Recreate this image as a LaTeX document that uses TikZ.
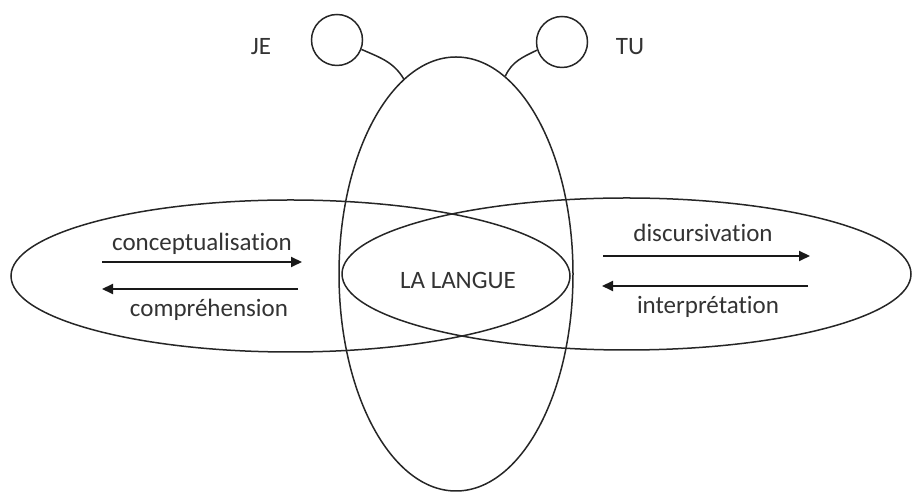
\documentclass[tikz,border=0pt]{standalone}
\usepackage{fontspec}
\setmainfont[Ligatures={NoCommon}]{Carlito}
\usetikzlibrary{shapes.geometric,arrows.meta}
\begin{document}
\begin{tikzpicture}[x=1pt,y=1pt,
  outline/.style={draw=black!85,line width=1.5pt,inner sep=0pt},
  oval/.style={outline,ellipse},
  head/.style={outline,circle,minimum size=51pt},
  lbl/.style={anchor=base,inner sep=0pt,text=black!80,font=\fontsize{25}{30}\selectfont},
  flow/.style={draw=black!90,line width=2pt,-{Triangle[length=11pt,width=10pt]}},
  antenna/.style={draw=black!85,line width=1.5pt}]
\useasboundingbox (0,0) rectangle (913,492);

% the three overlapping ovals
\node[oval,minimum width=234pt,minimum height=434pt] (langue) at (456,218) {};
\node[oval,minimum width=559pt,minimum height=152pt] (gauche) at (290.5,216) {};
\node[oval,minimum width=569pt,minimum height=152pt] (droite) at (626.5,218) {};

% the two heads and their antennae
\node[head] (je) at (337,452) {};
\node[head] (tu) at (562,450) {};
\draw[antenna] (je.-21) to[out=-24,in=121] (langue.105);
\draw[antenna] (tu.198) to[out=206,in=66] (langue.76);

% labels
\node[lbl] (tje) at (261,437) {JE};
\node[lbl] (ttu) at (630,437.7) {TU};
\node[lbl] (tlangue) at (458,203.7) {LA LANGUE};
\node[lbl] (tconc) at (202,241.3) {conceptualisation};
\node[lbl] (tcomp) at (209,175.3) {compréhension};
\node[lbl] (tdisc) at (703,250.3) {discursivation};
\node[lbl] (tinter) at (708,178.7) {interprétation};

% arrow end points
\coordinate (c1) at (102,230);
\coordinate (c2) at (302,230);
\coordinate (p1) at (298,203);
\coordinate (p2) at (102,203);
\coordinate (d1) at (603,236);
\coordinate (d2) at (810,236);
\coordinate (i1) at (808,206);
\coordinate (i2) at (602,206);

\draw[flow] (c1) -- (c2);
\draw[flow] (p1) -- (p2);
\draw[flow] (d1) -- (d2);
\draw[flow] (i1) -- (i2);
\end{tikzpicture}
\end{document}
